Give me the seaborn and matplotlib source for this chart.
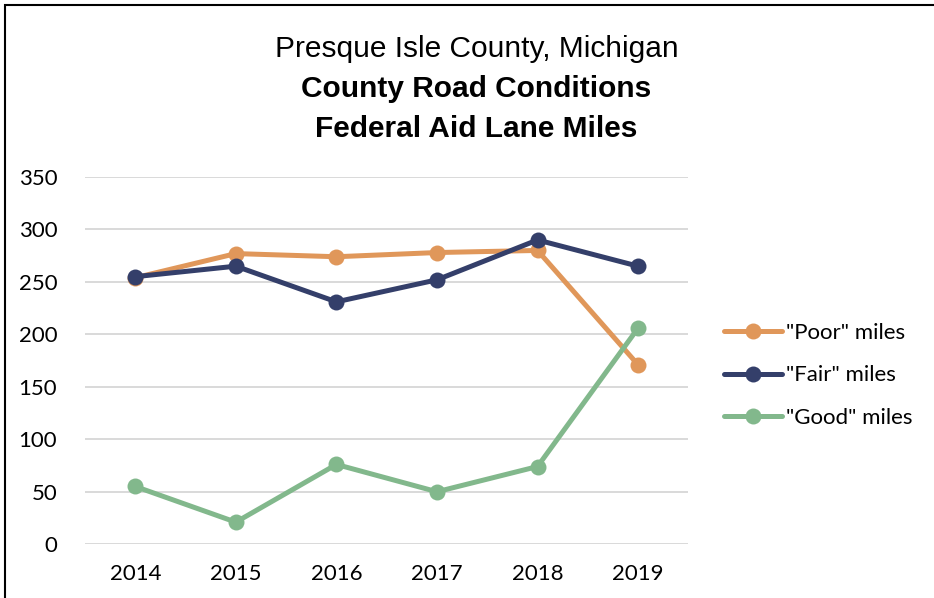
import matplotlib
matplotlib.use("Agg")
import matplotlib.pyplot as plt
import seaborn as sns
import pandas as pd
from matplotlib.patches import Rectangle

years = ["2014", "2015", "2016", "2017", "2018", "2019"]
poor = [254, 277, 274, 278, 280, 171]
fair = [255, 265, 231, 252, 290, 265]
good = [55, 21, 76, 50, 74, 206]
series_names = ['"Poor" miles', '"Fair" miles', '"Good" miles']
colors = ["#E0975A", "#343F6A", "#82B88C"]
yticks = [0, 50, 100, 150, 200, 250, 300, 350]

rows = []
for name, vals in zip(series_names, [poor, fair, good]):
    for i, (y, v) in enumerate(zip(years, vals)):
        rows.append({"idx": i, "year": y, "value": v, "series": name})
df = pd.DataFrame(rows)

sns.set_theme(style="white")
plt.rcParams['font.family'] = ['Lato', 'DejaVu Sans']
plt.rcParams['text.color'] = 'black'
plt.rcParams['xtick.color'] = 'black'
plt.rcParams['ytick.color'] = 'black'

fig = plt.figure(figsize=(9.34, 5.98), dpi=100)
ax = fig.add_axes([0.091, 0.090, 0.646, 0.614])

sns.lineplot(data=df, x="idx", y="value", hue="series", hue_order=series_names,
             palette=colors, marker="o", markersize=11.5, markeredgewidth=0,
             linewidth=3.6, ax=ax, legend=True, sort=False)

ax.set_xlim(-0.5, len(years) - 0.5)
ax.set_ylim(0, 350)
ax.set_xticks(range(len(years)))
ax.set_xticklabels(years, fontsize=16)
ax.set_yticks(yticks)
ax.set_yticklabels([str(t) for t in yticks], fontsize=16)
ax.tick_params(axis='x', length=0, pad=14)
ax.tick_params(axis='y', length=0, pad=20)
ax.grid(axis='y', color='#d9d9d9', linewidth=1.4)
ax.set_axisbelow(True)
for s in ax.spines.values():
    s.set_visible(False)
ax.set_xlabel("")
ax.set_ylabel("")

leg = ax.legend(loc='center left', bbox_to_anchor=(1.045, 0.46), frameon=False,
                fontsize=16, handlelength=2.6, labelspacing=1.0, handletextpad=0.15,
                borderaxespad=0)

tfam = ['Liberation Sans', 'DejaVu Sans']
fig.text(0.51, 0.918, "Presque Isle County, Michigan", ha='center', va='center',
         fontsize=21.5, family=tfam)
fig.text(0.51, 0.851, "County Road Conditions", ha='center', va='center',
         fontsize=21.5, fontweight='bold', family=tfam)
fig.text(0.51, 0.784, "Federal Aid Lane Miles", ha='center', va='center',
         fontsize=21.5, fontweight='bold', family=tfam)

fig.patches.append(Rectangle((5/934, -0.1), 1.2, 1.1 - 5/598, transform=fig.transFigure,
                             fill=False, edgecolor='black', linewidth=1.5))

fig.savefig("out.png", dpi=100)
